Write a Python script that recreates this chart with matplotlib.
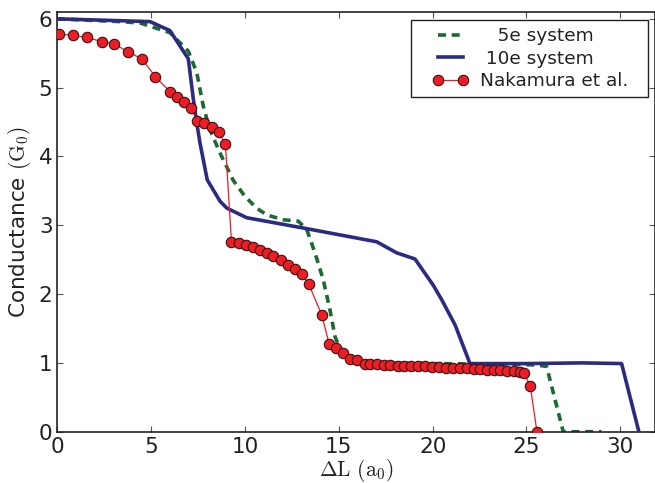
import matplotlib
matplotlib.use("Agg")
import matplotlib.pyplot as plt
from matplotlib.patches import Rectangle

# ---- data ----
nak_x = [0.08, 0.86, 1.57, 2.37, 3.01, 3.77, 4.50, 5.23, 6.01, 6.37, 6.76, 7.10, 7.47,
         7.83, 8.24, 8.59, 8.96, 9.28, 9.67, 10.08, 10.45, 10.81, 11.15, 11.52, 11.91,
         12.30, 12.64, 13.03, 13.41, 14.10, 14.49, 14.83, 15.22, 15.61, 15.96, 16.37,
         16.67, 17.03, 17.42, 17.74, 18.13, 18.50, 18.86, 19.22, 19.57, 19.96, 20.32,
         20.71, 21.08, 21.44, 21.83, 22.18, 22.54, 22.89, 23.25, 23.60, 23.96, 24.32,
         24.63, 24.85, 25.20, 25.56]
nak_y = [5.78, 5.76, 5.73, 5.67, 5.64, 5.52, 5.42, 5.16, 4.94, 4.87, 4.79, 4.70, 4.52,
         4.48, 4.43, 4.35, 4.18, 2.76, 2.74, 2.72, 2.68, 2.64, 2.60, 2.56, 2.49,
         2.42, 2.36, 2.29, 2.14, 1.69, 1.27, 1.21, 1.14, 1.06, 1.04, 0.99,
         0.98, 0.98, 0.97, 0.97, 0.96, 0.96, 0.95, 0.95, 0.95, 0.94, 0.94,
         0.93, 0.93, 0.92, 0.92, 0.91, 0.91, 0.90, 0.89, 0.89, 0.88, 0.88,
         0.87, 0.86, 0.67, 0.0]

e10_x = [0.0, 4.94, 6.0, 6.98, 7.25, 7.43, 7.60, 7.99, 8.67, 9.03, 10.09, 13.11, 17.02,
         18.08, 19.06, 20.03, 20.48, 21.2, 21.99, 25.0, 28.0, 30.07, 30.99]
e10_y = [6.0, 5.96, 5.83, 5.42, 4.83, 4.49, 4.20, 3.66, 3.35, 3.25, 3.11, 2.96, 2.76,
         2.60, 2.51, 2.13, 1.92, 1.55, 0.99, 0.99, 1.0, 0.99, 0.0]

e5_x = [0.0, 3.34, 4.41, 6.0, 6.98, 7.43, 7.78, 8.13, 8.67, 9.38, 10.0, 10.62, 11.16,
        12.05, 12.84, 13.29, 13.73, 14.17, 14.53, 14.80, 14.98, 15.5, 16.5, 20.0,
        24.0, 25.5, 26.07, 26.96, 29.0]
e5_y = [6.0, 5.96, 5.94, 5.80, 5.53, 5.22, 4.73, 4.39, 4.05, 3.65, 3.42, 3.25, 3.15,
        3.08, 3.06, 2.94, 2.60, 2.21, 1.77, 1.38, 1.26, 1.06, 1.0, 0.99,
        0.98, 0.97, 0.95, 0.0, 0.0]

labels = ["   5e system", " 10e system", "Nakamura et al."]
x_ticks = [0, 5, 10, 15, 20, 25, 30]
y_ticks = [0, 1, 2, 3, 4, 5, 6]

plt.rcParams['mathtext.fontset'] = 'cm'
plt.rcParams['font.family'] = ['DejaVu Sans']
txt = '#222222'

W, H = 655, 483
fig = plt.figure(figsize=(W / 100, H / 100), dpi=100)
ax = fig.add_axes([0.0875, 0.1062, 0.9125, 0.869])

ax.plot(e5_x, e5_y, color='#1b6a33', lw=2.6, dashes=(2.2, 1.6), label=labels[0], zorder=2)
ax.plot(e10_x, e10_y, color='#2b2b82', lw=2.6, label=labels[1], zorder=3)
ax.plot(nak_x, nak_y, color='#ee1c24', lw=0.9, marker='o', ms=7.5,
        mfc='#ee1c24', mec='#3a1010', mew=0.8, label=labels[2], zorder=4)

ax.set_xlim(0, 31.85)
ax.set_ylim(0, 6.1)
ax.set_xticks(x_ticks)
ax.set_yticks(y_ticks)
ax.tick_params(direction='in', top=True, right=True, length=4, width=0.8,
               labelsize=15.5, colors='#555555', labelcolor=txt)
for s in ax.spines.values():
    s.set_color('#222222')
    s.set_linewidth(1.2)

ax.set_xlabel(r'$\Delta\mathrm{L}\ (\mathrm{a}_0)$', fontsize=15.5, color=txt, labelpad=0)
ax.set_ylabel(r'Conductance $(\mathrm{G}_0)$', fontsize=15.5, color=txt, labelpad=4)

# legend frame (wider horizontal padding than matplotlib's uniform borderpad)
frame = Rectangle((411 / W, 1 - 97 / H), 237 / W, 77 / H, transform=fig.transFigure,
                  facecolor='white', edgecolor='#222222', lw=1.0, zorder=4.5,
                  clip_on=False)
ax.add_patch(frame)

leg = ax.legend(loc='upper right', fontsize=13.3, numpoints=2, frameon=False,
                bbox_to_anchor=(628 / W, 1 - 27 / H), bbox_transform=fig.transFigure,
                borderaxespad=0, borderpad=0,
                handlelength=1.95, handletextpad=0.6, labelspacing=0.25)
leg.set_zorder(5)
for t in leg.get_texts():
    t.set_color(txt)

fig.savefig('out.png', dpi=100)
